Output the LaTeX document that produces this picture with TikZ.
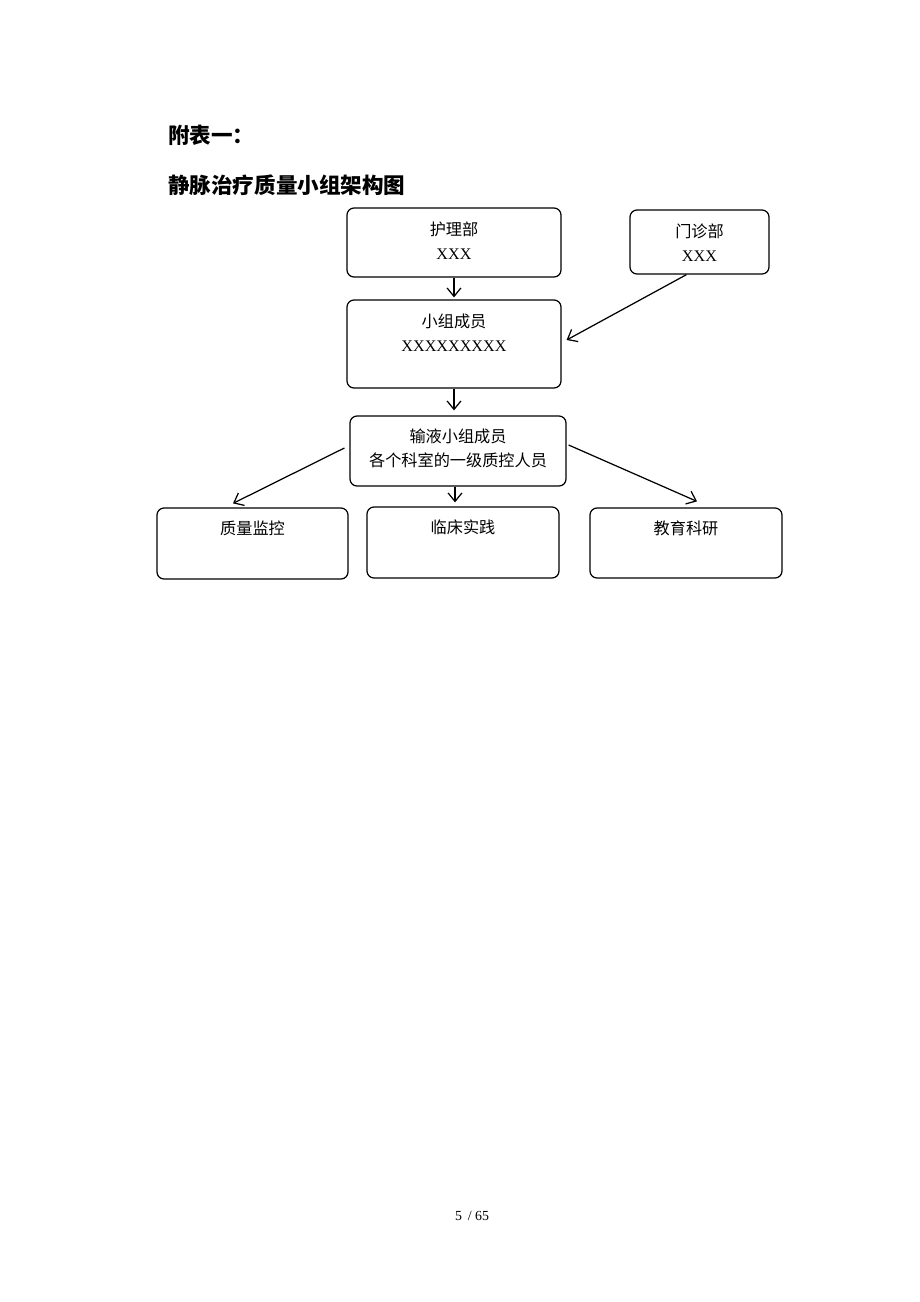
\documentclass[tikz,border=0pt]{standalone}
\usepackage{fontspec}
\setmainfont{Liberation Serif}
\newfontfamily\cjk{Noto Sans CJK SC}
\usetikzlibrary{arrows.meta,positioning}
\newlength\pxu
\setlength\pxu{0.02283cm}
\tikzset{
  box/.style={draw, rounded corners=7\pxu, line width=0.8pt, inner sep=0pt},
  boxtext/.style={anchor=north, inner sep=0pt, align=center, font=\fontsize{10.5}{15.5}\selectfont},
  arr/.style={-{Straight Barb[length=5.5pt,width=9pt]}, line width=0.8pt},
  heading/.style={anchor=west, inner sep=0pt, font=\cjk\bfseries\fontsize{14}{17}\selectfont},
}
\begin{document}
\begin{tikzpicture}[x=\pxu, y=-\pxu, line join=round]
\useasboundingbox (0,0) rectangle (920,1302);
% title
\node[heading] (fb) at (168,135) {附表一：};
\node[heading] (title) at (168,185) {静脉治疗质量小组架构图};
% boxes
\node[box, minimum width=214\pxu, minimum height=69\pxu] (hlb) at (454,242.5) {};
\node[box, minimum width=139\pxu, minimum height=64\pxu] (mzb) at (699.5,242) {};
\node[box, minimum width=214\pxu, minimum height=88\pxu] (xzcy) at (454,344) {};
\node[box, minimum width=216\pxu, minimum height=70\pxu] (syxz) at (458,451) {};
\node[box, minimum width=191\pxu, minimum height=71\pxu] (zljk) at (252.5,543.5) {};
\node[box, minimum width=192\pxu, minimum height=71\pxu] (lcsj) at (463,542.5) {};
\node[box, minimum width=192\pxu, minimum height=70\pxu] (jyky) at (686,543) {};
% texts
\node[boxtext] (hlb-t) at ([yshift=-14\pxu]hlb.north) {{\cjk 护理部}\\XXX};
\node[boxtext] (mzb-t) at ([yshift=-14\pxu]mzb.north) {{\cjk 门诊部}\\XXX};
\node[boxtext] (xzcy-t) at ([yshift=-14\pxu]xzcy.north) {{\cjk 小组成员}\\XXXXXXXXX};
\node[boxtext] (syxz-t) at ([yshift=-13\pxu]syxz.north) {{\cjk 输液小组成员}\\{\cjk 各个科室的一级质控人员}};
\node[boxtext] (zljk-t) at ([yshift=-13\pxu]zljk.north) {\cjk 质量监控};
\node[boxtext] (lcsj-t) at ([yshift=-13\pxu]lcsj.north) {\cjk 临床实践};
\node[boxtext] (jyky-t) at ([yshift=-13\pxu]jyky.north) {\cjk 教育科研};
% arrows
\draw[arr, shorten >=2\pxu] (hlb.south) -- (xzcy.north);
\draw[arr] ([xshift=-13\pxu]mzb.south) -- ([xshift=5\pxu,yshift=4\pxu]xzcy.east);
\draw[arr, shorten >=5\pxu] (xzcy.south) -- (xzcy.south |- syxz.north);
\draw[arr] ([xshift=-5\pxu,yshift=3\pxu]syxz.west) -- ([xshift=-19.5\pxu,yshift=4\pxu]zljk.north);
\draw[arr, shorten >=4\pxu] ([xshift=-3\pxu]syxz.south) -- ([xshift=-3\pxu]syxz.south |- lcsj.north);
\draw[arr] ([xshift=2\pxu,yshift=6\pxu]syxz.east) -- ([xshift=11\pxu,yshift=6\pxu]jyky.north);
% page number
\node[font=\fontsize{9}{11}\selectfont] (pg) at (472,1216) {5 \,/ 65};
\end{tikzpicture}
\end{document}
